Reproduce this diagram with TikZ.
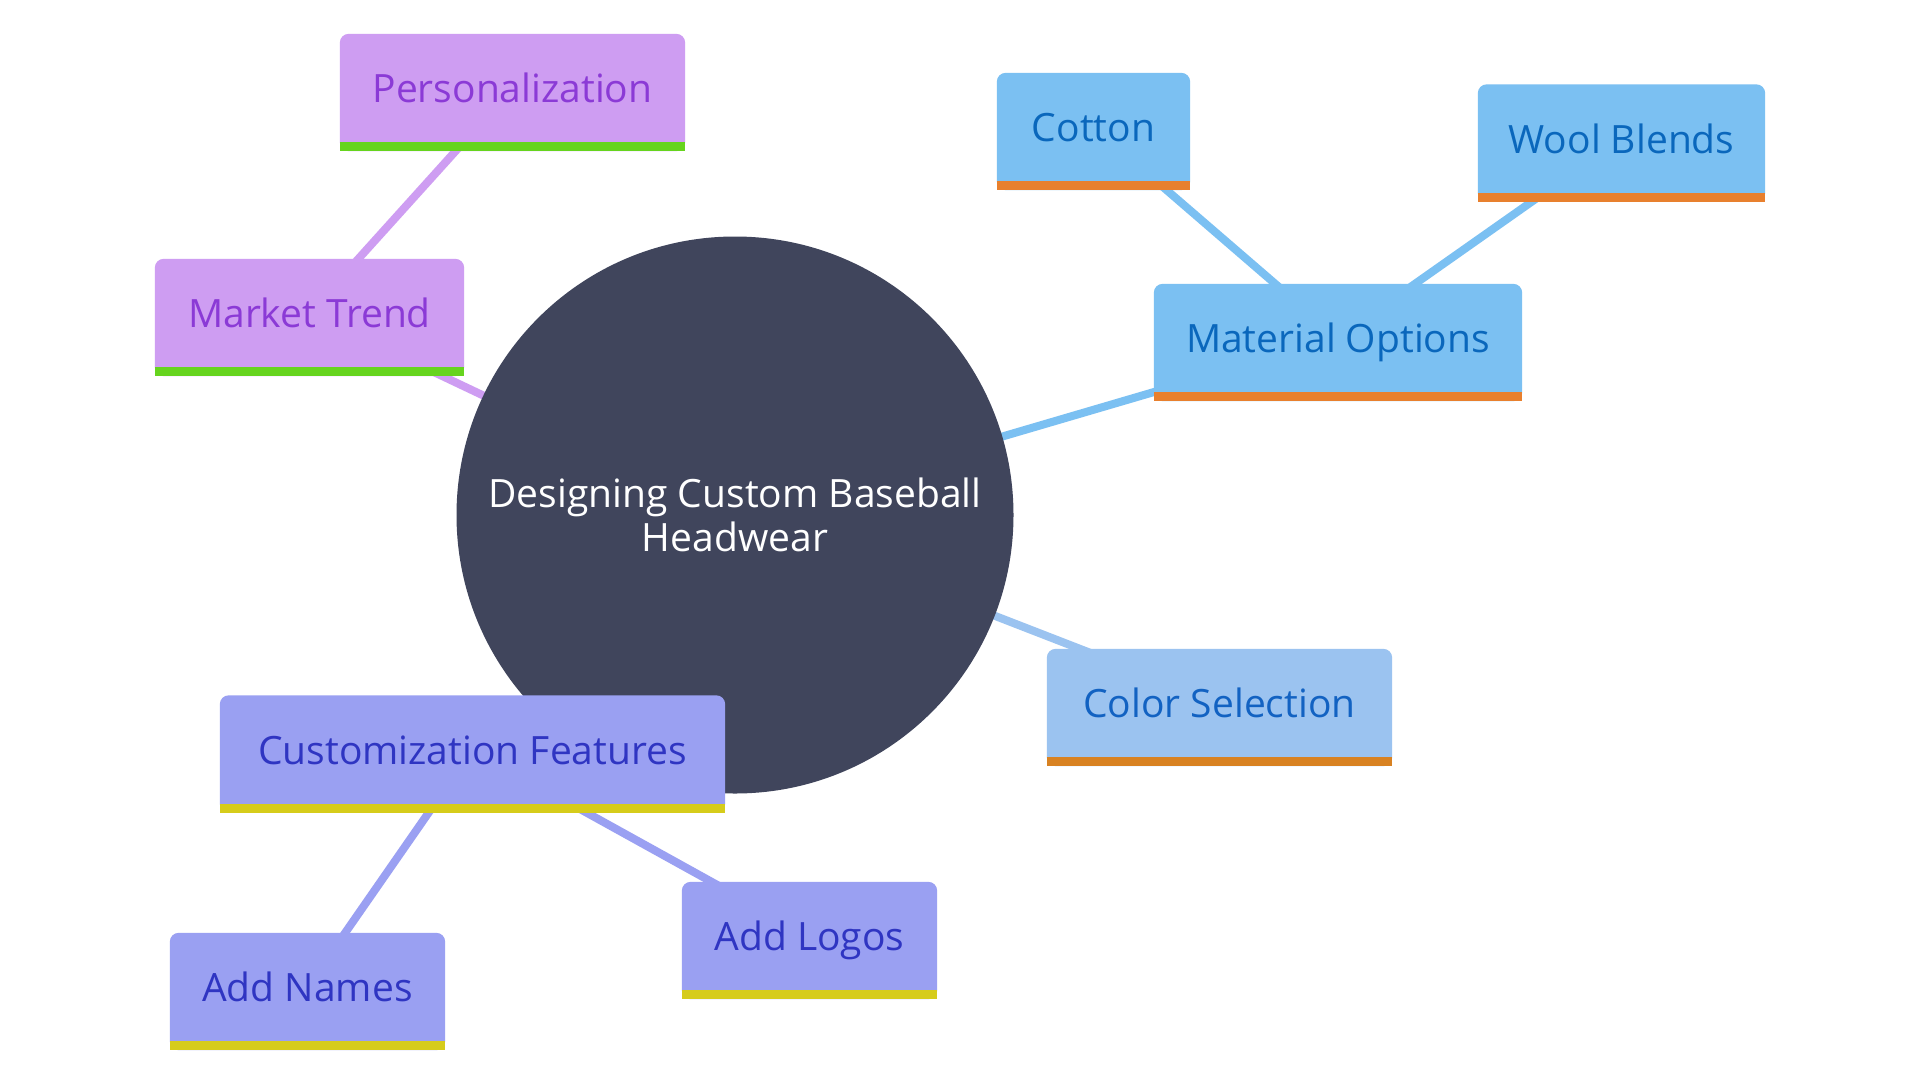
\documentclass[tikz,border=0pt]{standalone}
\usepackage{fontspec}
\setmainfont{Open Sans}
\pgfdeclarelayer{paper}
\pgfdeclarelayer{edges}
\pgfdeclarelayer{hub}
\pgfdeclarelayer{boxes}
\pgfsetlayers{paper,edges,hub,boxes,main}
\definecolor{hubc}{HTML}{40455C}
\definecolor{purf}{HTML}{CE9DF2}
\definecolor{purt}{HTML}{8B3AD6}
\definecolor{purb}{HTML}{66D41E}
\definecolor{bluf}{HTML}{7BC0F2}
\definecolor{blut}{HTML}{0A67BC}
\definecolor{blub}{HTML}{E8802E}
\definecolor{colf}{HTML}{9BC3F0}
\definecolor{colt}{HTML}{1262C2}
\definecolor{colb}{HTML}{D88222}
\definecolor{cusf}{HTML}{9AA0F2}
\definecolor{cust}{HTML}{2F35C2}
\definecolor{cusb}{HTML}{D6CC1B}
\tikzset{
  x=1pt, y=-1pt,
  lbl/.style={inner sep=0pt, minimum height=108pt, text height=29pt, text depth=0pt,
    font=\fontsize{39}{46}\selectfont},
  link/.style={line width=8pt},
}
\newcommand{\boxbg}[3]{%
  \begin{pgfonlayer}{boxes}
    \fill[#2, rounded corners=9pt] (#1.north west) rectangle ([yshift=-9pt]#1.south east);
    \fill[#3] (#1.south west) rectangle ([yshift=-9pt]#1.south east);
  \end{pgfonlayer}}
\begin{document}
\begin{tikzpicture}
\begin{pgfonlayer}{paper}
\useasboundingbox[fill=white] (0,0) rectangle (1920,1080);
\end{pgfonlayer}
% hub
\begin{pgfonlayer}{hub}
\node[circle, fill=hubc, minimum size=557pt, inner sep=0pt, text=white, align=center,
  font=\fontsize{39}{44}\selectfont] (hub) at (735,515) {Designing Custom Baseball\\Headwear};
\end{pgfonlayer}
% nodes
\node[lbl, minimum width=345pt, text=purt] (pers) at (512.5,88) {Personalization};
\node[lbl, minimum width=309pt, text=purt] (mkt) at (309.5,313) {Market Trend};
\node[lbl, minimum width=193pt, text=blut] (cot) at (1093.5,127) {Cotton};
\node[lbl, minimum width=287pt, text=blut] (wool) at (1621.5,138.5) {Wool Blends};
\node[lbl, minimum width=368pt, text=blut] (mat) at (1338,338) {Material Options};
\node[lbl, minimum width=345pt, text=colt] (col) at (1219.5,703) {Color Selection};
\node[lbl, minimum width=505pt, text=cust] (cus) at (472.5,749.5) {Customization Features};
\node[lbl, minimum width=255pt, text=cust] (logo) at (809.5,936) {Add Logos};
\node[lbl, minimum width=275pt, text=cust] (names) at (307.5,987) {Add Names};
\boxbg{pers}{purf}{purb}
\boxbg{mkt}{purf}{purb}
\boxbg{cot}{bluf}{blub}
\boxbg{wool}{bluf}{blub}
\boxbg{mat}{bluf}{blub}
\boxbg{col}{colf}{colb}
\boxbg{cus}{cusf}{cusb}
\boxbg{logo}{cusf}{cusb}
\boxbg{names}{cusf}{cusb}
% connectors
\begin{pgfonlayer}{edges}
\draw[link, purf] (hub.center) -- (mkt.center);
\draw[link, purf] (mkt.center) -- (pers.center);
\draw[link, bluf] (hub.center) -- (mat.center);
\draw[link, bluf] (mat.center) -- (cot.center);
\draw[link, bluf] (mat.center) -- (wool.center);
\draw[link, colf] (hub.center) -- (col.center);
\draw[link, cusf] (hub.center) -- (cus.center);
\draw[link, cusf] (cus.center) -- (logo.center);
\draw[link, cusf] (cus.center) -- (names.center);
\end{pgfonlayer}
\end{tikzpicture}
\end{document}
